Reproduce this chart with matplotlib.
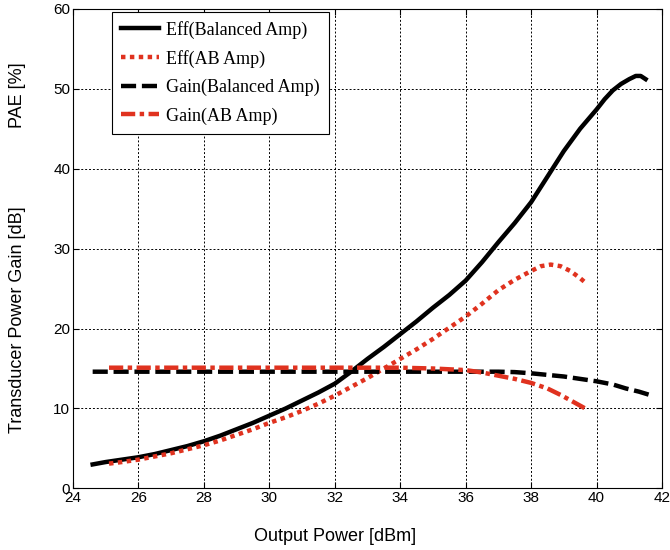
import matplotlib.pyplot as plt

# Eff (Balanced Amp) - PAE [%]
eff_bal_x = [24.6, 25, 25.5, 26, 26.5, 27, 27.5, 28, 28.5, 29, 29.5, 30, 30.5, 31, 31.5, 32, 32.5, 33,
             33.5, 34, 34.5, 35, 35.5, 36, 36.5, 37, 37.5, 38, 38.5, 39, 39.5, 40, 40.25, 40.5, 40.75,
             41, 41.2, 41.35, 41.5]
eff_bal_y = [3.0, 3.3, 3.6, 3.9, 4.3, 4.8, 5.3, 5.9, 6.6, 7.4, 8.2, 9.1, 10.0, 11.0, 12.0, 13.1, 14.6, 16.2,
             17.7, 19.3, 20.9, 22.6, 24.2, 26.0, 28.3, 30.8, 33.2, 35.8, 39.0, 42.2, 45.0, 47.4, 48.7, 49.8, 50.6,
             51.2, 51.6, 51.6, 51.2]

# Eff (AB Amp)
eff_ab_x = [25.1, 25.5, 26, 26.5, 27, 27.5, 28, 28.5, 29, 29.5, 30, 30.5, 31, 31.5, 32, 32.5, 33, 33.5, 34,
            34.5, 35, 35.5, 36, 36.5, 37, 37.5, 38, 38.3, 38.6, 38.9, 39.2, 39.5, 39.7]
eff_ab_y = [3.1, 3.3, 3.6, 4.0, 4.4, 4.9, 5.4, 6.0, 6.7, 7.4, 8.2, 8.9, 9.7, 10.6, 11.6, 12.7, 13.8, 15.0, 16.2,
            17.4, 18.7, 20.1, 21.5, 23.1, 24.8, 26.1, 27.2, 27.8, 28.0, 27.8, 27.2, 26.3, 25.6]

# Gain (Balanced Amp) - dB
gain_bal_x = [24.6, 26, 28, 30, 32, 34, 36, 37, 37.5, 38, 38.5, 39, 39.5, 40, 40.5, 40.9, 41.3, 41.7]
gain_bal_y = [14.6, 14.6, 14.6, 14.6, 14.6, 14.6, 14.6, 14.6, 14.55, 14.4, 14.2, 14.0, 13.7, 13.4, 13.0,
              12.5, 12.1, 11.6]

# Gain (AB Amp)
gain_ab_x = [25.1, 26, 28, 30, 32, 34, 34.5, 35, 35.5, 36, 36.5, 37, 37.5, 38, 38.5, 38.9, 39.3, 39.7]
gain_ab_y = [15.1, 15.1, 15.1, 15.1, 15.1, 15.1, 15.05, 15.0, 14.9, 14.8, 14.5, 14.1, 13.7, 13.2, 12.5,
             11.7, 10.8, 9.9]

red = '#e0321f'

fig = plt.figure(figsize=(6.7, 5.5), dpi=100)
ax = fig.add_axes([0.109, 0.112, 0.879, 0.872])

ax.plot(eff_bal_x, eff_bal_y, color='black', lw=3.2, label='Eff(Balanced Amp)')
ax.plot(eff_ab_x, eff_ab_y, color=red, lw=3.2, linestyle=(0, (1.0, 1.0)), label='Eff(AB Amp)')
ax.plot(gain_bal_x, gain_bal_y, color='black', lw=3.2, linestyle=(0, (3.4, 1.3)), label='Gain(Balanced Amp)')
ax.plot(gain_ab_x, gain_ab_y, color=red, lw=3.2, linestyle=(0, (3.2, 1.0, 1.0, 1.0)), label='Gain(AB Amp)')

ax.set_xlim(24, 42)
ax.set_ylim(0, 60)
ax.set_xticks(range(24, 43, 2))
ax.set_yticks(range(0, 61, 10))
ax.grid(True, color='black', linestyle=(0, (2, 2)), linewidth=0.7)
ax.tick_params(direction='in', length=4, labelsize=11, top=True, right=True, pad=2)
for lab in ax.get_xticklabels() + ax.get_yticklabels():
    lab.set_family('Liberation Sans')

leg = ax.legend(loc='upper left', bbox_to_anchor=(0.066, 0.994), borderaxespad=0,
                prop={'family': 'Liberation Serif', 'size': 13}, fancybox=False,
                edgecolor='black', framealpha=1, handlelength=2.1, handletextpad=0.4,
                labelspacing=0.62, borderpad=0.5)
leg.get_frame().set_linewidth(0.8)

fig.text(0.5, 0.024, 'Output Power [dBm]', ha='center', va='center',
         family='Liberation Sans', fontsize=13)
fig.text(0.026, 0.827, 'PAE [%]', ha='center', va='center', rotation=90,
         family='Liberation Sans', fontsize=13)
fig.text(0.026, 0.418, 'Transducer Power Gain [dB]', ha='center', va='center', rotation=90,
         family='Liberation Sans', fontsize=13)

fig.savefig('out.png', dpi=100)
